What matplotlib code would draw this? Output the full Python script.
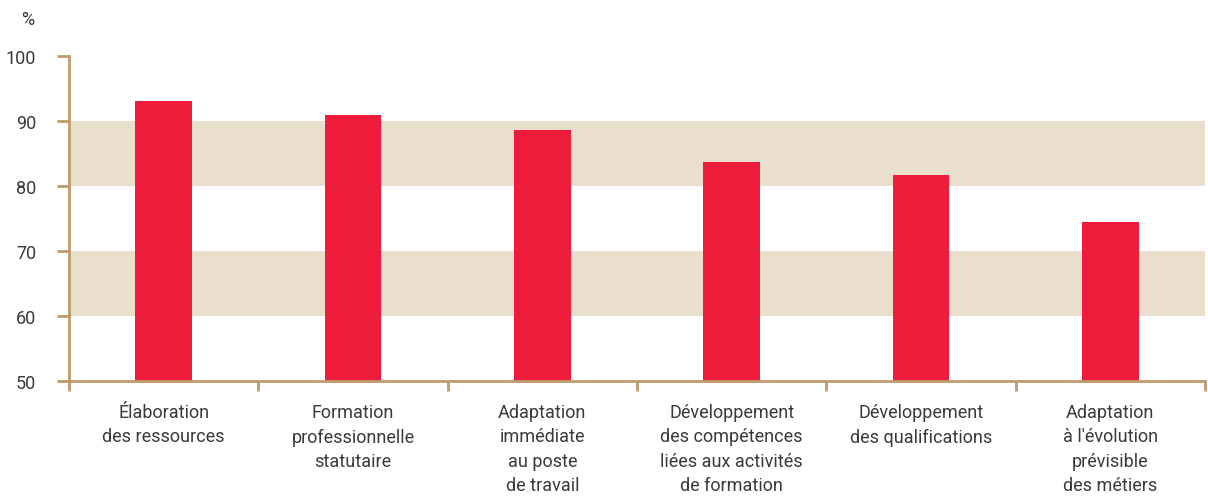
import numpy as np
import matplotlib.pyplot as plt

# Données
categories = ["Élaboration\ndes ressources",
              "Formation\nprofessionnelle\nstatutaire",
              "Adaptation\nimmédiate\nau poste\nde travail",
              "Développement\ndes compétences\nliées aux activités\nde formation",
              "Développement\ndes qualifications",
              "Adaptation\nà l'évolution\nprévisible\ndes métiers"]
valeurs = [93.1, 90.9, 88.6, 83.7, 81.7, 74.5]
yticks = [50, 60, 70, 80, 90, 100]
bandes = [(60, 70), (80, 90)]

ROUGE = "#EE1B3B"
BEIGE = "#E9DFCC"
AXE = "#BF9A6A"
TEXTE = "#3a3a3a"

plt.rcParams['font.family'] = ['Roboto', 'DejaVu Sans']

fig = plt.figure(figsize=(12.08, 5.02), dpi=100)
ax = fig.add_axes([69/1208, 1-382/502, (1205-69)/1208, (382-57)/502])

n = len(categories)
x = np.arange(n)
# bandes de fond
for b in bandes:
    ax.axhspan(b[0], b[1], color=BEIGE, lw=0, zorder=0)
ax.bar(x, [v - 50 for v in valeurs], bottom=50, width=0.3, color=ROUGE, zorder=2)

ax.set_xlim(-0.5, n - 0.5)
ax.set_ylim(50, 100)
ax.set_yticks(yticks)
ax.set_yticklabels([str(t) for t in yticks], fontsize=13, color=TEXTE)

# ticks x aux limites des catégories
ax.set_xticks(np.arange(n + 1) - 0.5)
ax.set_xticklabels([])
ax.tick_params(axis='x', length=7, width=2, color=AXE, direction='out')
ax.tick_params(axis='y', length=8.5, width=2, color=AXE, direction='out', pad=15)
for i, c in enumerate(categories):
    ax.text(i, 46.6, c, ha='center', va='top', fontsize=13, color=TEXTE,
            linespacing=1.45)

for s in ['top', 'right']:
    ax.spines[s].set_visible(False)
for s in ['left', 'bottom']:
    ax.spines[s].set_color(AXE)
    ax.spines[s].set_linewidth(2)

fig.text(28/1208, 1-20/502, "%", ha='center', va='center', fontsize=13, color=TEXTE)

fig.savefig("out.png", dpi=100)
